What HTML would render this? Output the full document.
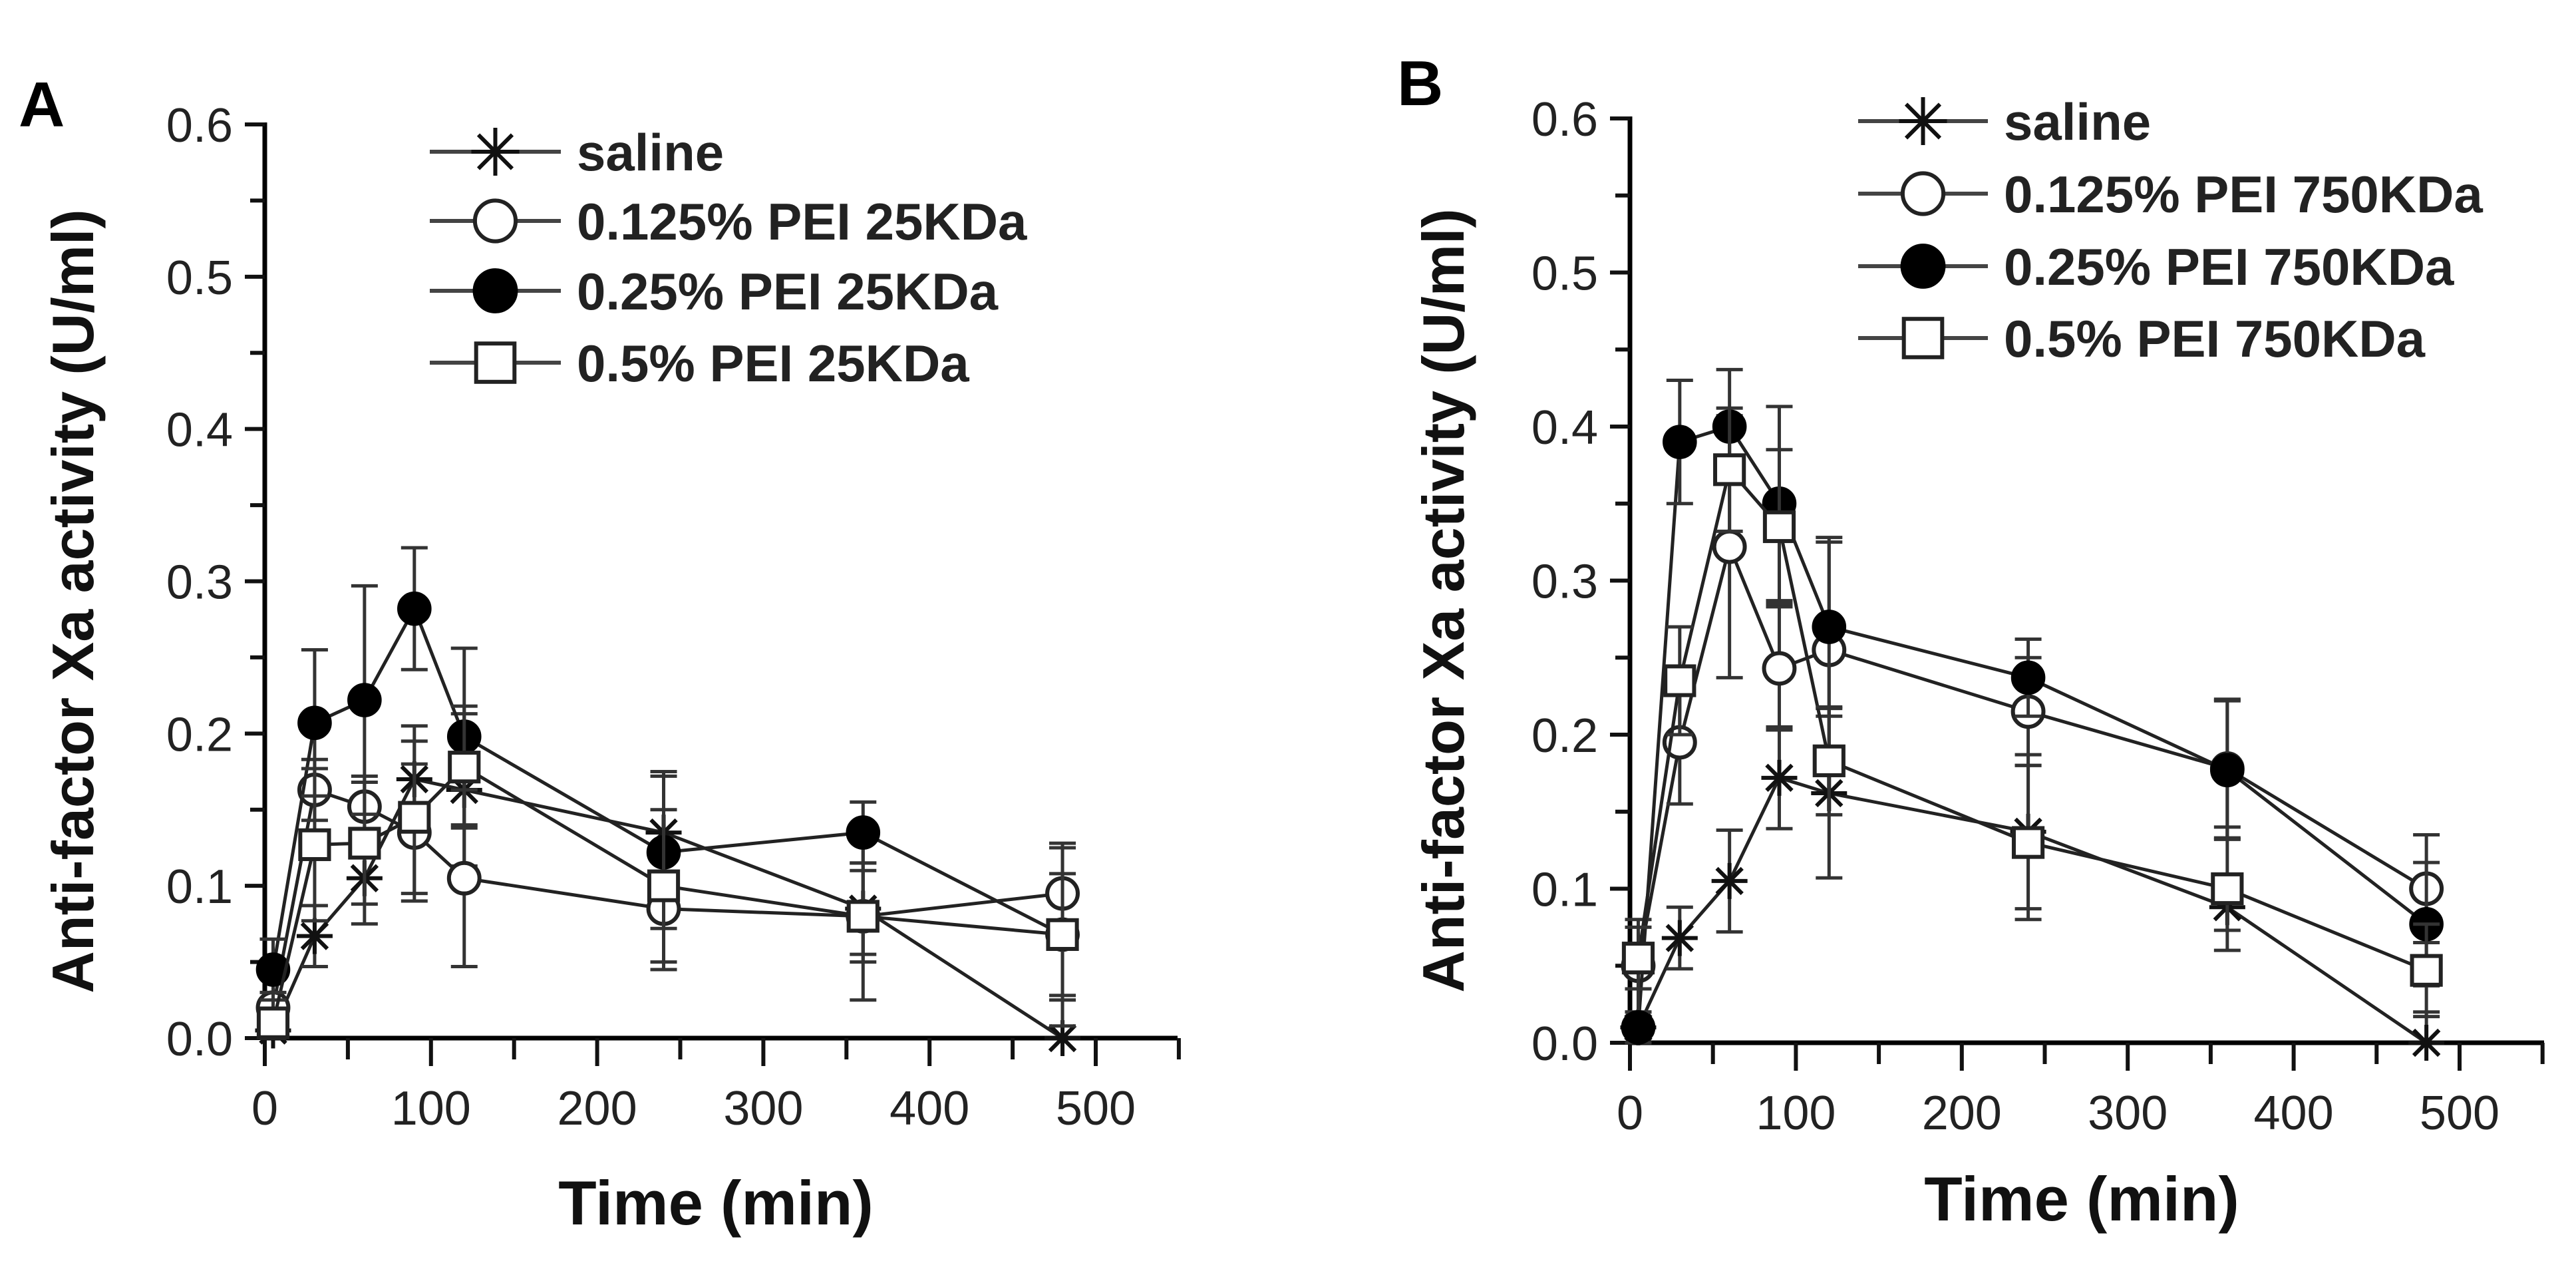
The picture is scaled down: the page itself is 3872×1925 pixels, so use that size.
<!DOCTYPE html>
<html><head><meta charset="utf-8"><style>
html,body{margin:0;padding:0;background:#fff;}
svg{display:block;font-family:"Liberation Sans",Arial,sans-serif;}
</style></head><body>
<svg id="fig" width="3872" height="1925" viewBox="0 0 3872 1925" xmlns="http://www.w3.org/2000/svg"></svg>
<script>
const times = [5, 30, 60, 90, 120, 240, 360, 480];
const xTicks = [0, 100, 200, 300, 400, 500];
const yTicks = ["0.0","0.1","0.2","0.3","0.4","0.5","0.6"];
const seriesKeys = ["saline","p125","p25","p5"];
const labelsA = ["saline","0.125% PEI 25KDa","0.25% PEI 25KDa","0.5% PEI 25KDa"];
const labelsB = ["saline","0.125% PEI 750KDa","0.25% PEI 750KDa","0.5% PEI 750KDa"];
const A_saline = [0.005, 0.067, 0.105, 0.17, 0.163, 0.135, 0.085, 0.0];
const A_saline_err = [0.01, 0.02, 0.03, 0.035, 0.05, 0.04, 0.03, 0.025];
const A_p125 = [0.02, 0.163, 0.152, 0.135, 0.105, 0.085, 0.08, 0.095];
const A_p125_err = [0.02, 0.02, 0.02, 0.045, 0.058, 0.04, 0.055, 0.03];
const A_p25 = [0.045, 0.207, 0.222, 0.282, 0.198, 0.122, 0.135, 0.068];
const A_p25_err = [0.02, 0.048, 0.075, 0.04, 0.058, 0.05, 0.02, 0.06];
const A_p5 = [0.01, 0.127, 0.128, 0.145, 0.178, 0.1, 0.08, 0.068];
const A_p5_err = [0.02, 0.05, 0.04, 0.05, 0.04, 0.05, 0.03, 0.04];
const B_saline = [0.01, 0.068, 0.105, 0.172, 0.162, 0.137, 0.088, 0.0];
const B_saline_err = [0.01, 0.02, 0.033, 0.033, 0.055, 0.05, 0.015, 0.02];
const B_p125 = [0.05, 0.195, 0.322, 0.243, 0.255, 0.215, 0.178, 0.1];
const B_p125_err = [0.03, 0.04, 0.085, 0.04, 0.07, 0.035, 0.045, 0.035];
const B_p25 = [0.01, 0.39, 0.4, 0.35, 0.27, 0.237, 0.177, 0.077];
const B_p25_err = [0.05, 0.04, 0.037, 0.063, 0.058, 0.025, 0.045, 0.04];
const B_p5 = [0.055, 0.235, 0.372, 0.335, 0.183, 0.13, 0.1, 0.047];
const B_p5_err = [0.02, 0.035, 0.04, 0.05, 0.035, 0.05, 0.04, 0.03];

const NS = "http://www.w3.org/2000/svg";
const svg = document.getElementById("fig");
function mk(tag, attrs, parent){const e=document.createElementNS(NS,tag);for(const k in attrs)e.setAttribute(k,attrs[k]);(parent||svg).appendChild(e);return e;}

function marker(g, kind, cx, cy, r){
  if(kind==="saline"){
    let m=mk("g",{},g);
    for(let a=0;a<180;a+=45){const rad=a*Math.PI/180;
      mk("line",{x1:cx-r*Math.cos(rad),y1:cy-r*Math.sin(rad),x2:cx+r*Math.cos(rad),y2:cy+r*Math.sin(rad),stroke:"#111","stroke-width":6},m);}
    return m;
  } else if(kind==="p125"){
    return mk("circle",{cx:cx,cy:cy,r:r*0.85,fill:"#fff",stroke:"#222","stroke-width":6},g);
  } else if(kind==="p25"){
    return mk("circle",{cx:cx,cy:cy,r:r*0.9,fill:"#000",stroke:"#000","stroke-width":3},g);
  } else {
    const s=r*0.8;
    return mk("rect",{x:cx-s,y:cy-s,width:2*s,height:2*s,fill:"#fff",stroke:"#222","stroke-width":6},g);
  }
}

function panel(cfg){
  const g=mk("g",{});
  
  
  const xs=t=>cfg.x0+(t/500)*(cfg.x500-cfg.x0);
  const ys=v=>cfg.y0-(v/0.6)*(cfg.y0-cfg.y6);
  const ax=mk("g",{},g);
  
  
  mk("line",{x1:cfg.x0,y1:cfg.y0,x2:cfg.xend,y2:cfg.y0,stroke:"#000","stroke-width":7},ax);
  mk("line",{x1:cfg.x0,y1:cfg.y0+3,x2:cfg.x0,y2:cfg.y6-3,stroke:"#000","stroke-width":7},ax);
  for(let t=0;t<=550;t+=50){
    const major=t%100===0;
    mk("line",{x1:xs(t),y1:cfg.y0,x2:xs(t),y2:cfg.y0+(major?42:32),stroke:"#111","stroke-width":6},ax);
  }
  xTicks.forEach(t=>{
    const e=mk("text",{x:xs(t),y:cfg.y0+130,"font-size":72,"text-anchor":"middle",fill:"#222"},ax);
    e.textContent=t;
    
    
  });
  for(let i=0;i<=12;i++){
    const v=i*0.05, major=i%2===0;
    mk("line",{x1:cfg.x0,y1:ys(v),x2:cfg.x0-(major?30:22),y2:ys(v),stroke:"#111","stroke-width":6},ax);
  }
  yTicks.forEach(lbl=>{
    const e=mk("text",{x:cfg.x0-48,y:ys(parseFloat(lbl))+26,"font-size":72,"text-anchor":"end",fill:"#222"},ax);
    e.textContent=lbl;
    
    
  });
  const xt=mk("text",{x:cfg.xtx,y:cfg.xty,"font-size":94,"font-weight":"bold","text-anchor":"middle",fill:"#111"},g);
  xt.textContent="Time (min)";
  
  
  const yt=mk("text",{x:0,y:0,"font-size":88,"font-weight":"bold","text-anchor":"middle",fill:"#111",transform:`translate(${cfg.ytx},${(cfg.y0+cfg.y6)/2+30}) rotate(-90)`},g);
  yt.textContent="Anti-factor Xa activity (U/ml)";
  
  
  const pl=mk("text",{x:cfg.lx,y:cfg.ly,"font-size":96,"font-weight":"bold",fill:"#000"},g);
  pl.textContent=cfg.letter;
  
  
  seriesKeys.forEach((k,si)=>{
    const vals=cfg.data[k], errs=cfg.errs[k];
    const sg=mk("g",{},g);
    
    
    const pts=times.map((t,i)=>xs(t)+","+ys(vals[i])).join(" ");
    mk("polyline",{points:pts,fill:"none",stroke:"#222","stroke-width":5},sg);
    times.forEach((t,i)=>{
      const x=xs(t),y1=ys(vals[i]+errs[i]),y2=ys(Math.max(0,vals[i]-errs[i]));
      const eb=mk("g",{},sg);
      
      
      mk("line",{x1:x,y1:y1,x2:x,y2:y2,stroke:"#333","stroke-width":5},eb);
      mk("line",{x1:x-20,y1:y1,x2:x+20,y2:y1,stroke:"#333","stroke-width":5},eb);
      mk("line",{x1:x-20,y1:y2,x2:x+20,y2:y2,stroke:"#333","stroke-width":5},eb);
    });
    times.forEach((t,i)=>{
      const m=marker(sg,k,xs(t),ys(vals[i]),27);
      
      
    });
  });
  const lg=mk("g",{},g);
  
  
  seriesKeys.forEach((k,i)=>{
    const y=cfg.legY[i];
    const le=mk("g",{},lg);
    
    
    mk("line",{x1:cfg.legX1,y1:y,x2:cfg.legX2,y2:y,stroke:"#444","stroke-width":6},le);
    marker(le,k,(cfg.legX1+cfg.legX2)/2,y,36);
    const tx=mk("text",{x:cfg.legTx,y:y+28,"font-size":78,"font-weight":"bold",fill:"#222"},le);
    tx.textContent=cfg.labels[i];
  });
}

panel({name:"panel-a",letter:"A",lx:28,ly:190,x0:398,x500:1647,xend:1770,y0:1560,y6:187,
  xtx:1076,xty:1840,ytx:140,
  legX1:646,legX2:843,legTx:867,legY:[228,332,437,545],labels:labelsA,
  data:{saline:A_saline,p125:A_p125,p25:A_p25,p5:A_p5},
  errs:{saline:A_saline_err,p125:A_p125_err,p25:A_p25_err,p5:A_p5_err}});
panel({name:"panel-b",letter:"B",lx:2100,ly:158,x0:2450,x500:3697,xend:3824,y0:1567,y6:178,
  xtx:3129,xty:1834,ytx:2200,
  legX1:2793,legX2:2988,legTx:3012,legY:[182,291,400,508],labels:labelsB,
  data:{saline:B_saline,p125:B_p125,p25:B_p25,p5:B_p5},
  errs:{saline:B_saline_err,p125:B_p125_err,p25:B_p25_err,p5:B_p5_err}});
</script>
</body></html>
